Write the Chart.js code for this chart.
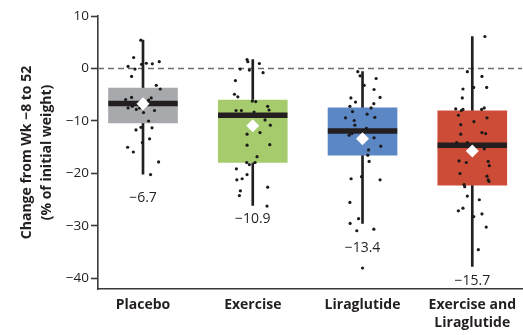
<!DOCTYPE html>
<html><head><meta charset="utf-8">
<script src="https://cdn.jsdelivr.net/npm/chart.js@4"></script>
<style>html,body{margin:0;padding:0;background:#fff}</style>
</head><body>
<canvas id="c" width="523" height="335"></canvas>
<script>
// ---- data ----
const categories = ['Placebo', 'Exercise', 'Liraglutide', ['Exercise and', 'Liraglutide']];
const yTicks = [10, 0, -10, -20, -30, -40];
const q3 = [-3.75, -6.0, -7.5, -8.05];
const q1 = [-10.35, -17.9, -16.5, -22.2];
const medians = [-6.65, -8.9, -11.9, -14.6];
const means = [-6.7, -10.9, -13.4, -15.7];
const whiskerHigh = [5.4, 1.7, -0.6, 6.1];
const whiskerLow = [-20.15, -26.1, -29.5, -37.7];
const meanLabelY = [-24.6, -28.6, -34.1, -40.4];

const placeboVals = [5.4, 2.1, 0.4, -0.1, 0.8, 1.0, 0.9, 1.3, -1.5, -3.2, -3.9, -5.9, -5.5, -7.5, -7.2, -7.8, -7.5, -8.4, -6.0, -5.6, -8.0, -10.0, -11.2, -11.7, -11.3, -13.4, -14.1, -15.0, -15.9, -17.8, -20.2];
const placeboJitter = [-0.02, -0.085, -0.136, -0.073, -0.013, 0.03, 0.085, 0.148, -0.104, 0.121, 0.157, -0.158, -0.104, -0.136, -0.097, -0.061, -0.031, 0.005, 0.051, 0.075, 0.105, 0.051, -0.018, -0.064, 0.082, 0.06, -0.006, -0.14, -0.088, 0.142, 0.069];

const exerciseVals = [1.7, 1.3, 0.95, -0.1, -0.3, -0.8, -2.3, -4.9, -5.4, -6.2, -6.3, -8.0, -8.0, -8.3, -7.2, -7.9, -9.8, -10.8, -12.2, -12.5, -14.6, -14.5, -16.8, -17.9, -18.3, -17.9, -19.1, -20.2, -21.2, -21.0, -23.3, -24.2, -22.6, -26.2];
const exerciseJitter = [-0.052, -0.045, 0.06, -0.115, -0.031, 0.094, -0.158, -0.167, -0.136, -0.004, 0.027, -0.152, -0.104, 0.012, 0.136, 0.148, 0.112, 0.16, 0.066, -0.052, -0.052, 0.155, 0.039, -0.055, -0.031, 0.021, -0.149, -0.052, -0.145, -0.097, -0.113, -0.122, 0.136, 0.13];

const liraVals = [-0.6, -1.4, -1.9, -3.2, -4.0, -5.6, -6.4, -5.5, -6.7, -7.2, -7.5, -8.2, -8.7, -9.4, -9.3, -9.9, -10.8, -11.4, -12.7, -12.4, -13.2, -14.8, -15.5, -16.5, -17.7, -20.6, -21.0, -21.2, -25.5, -28.6, -29.5, -30.9, -30.6, -38.0];
const liraJitter = [-0.043, -0.022, 0.124, 0.015, 0.105, -0.106, -0.064, 0.16, 0.103, -0.115, 0.078, -0.091, 0.042, -0.155, 0.112, -0.076, -0.07, 0.036, -0.122, -0.097, 0.105, 0.166, 0.055, 0.048, 0.06, -0.009, -0.104, 0.16, -0.115, -0.036, -0.113, -0.052, 0.103, 0];

const comboVals = [6.1, -0.6, -1.5, -3.9, -3.6, -3.6, -5.6, -7.7, -8.0, -7.8, -7.8, -7.5, -8.9, -9.4, -10.1, -10.7, -12.2, -12.4, -12.5, -14.1, -14.1, -15.3, -17.6, -17.9, -17.7, -18.5, -20.0, -20.5, -21.2, -21.5, -22.1, -22.5, -24.3, -25.0, -27.1, -26.6, -28.2, -27.7, -30.2, -34.5];
const comboJitter = [0.115, -0.045, 0.088, -0.085, 0.013, 0.131, -0.091, -0.151, -0.1, -0.085, 0.085, 0.109, -0.127, 0.134, 0.015, -0.105, 0.088, 0.122, -0.105, -0.142, -0.045, 0.109, -0.121, -0.055, 0.145, 0.155, -0.112, 0.134, 0.145, 0.152, -0.075, -0.069, -0.045, 0.064, -0.127, -0.085, 0.013, 0.088, 0.127, 0.055];

// ---- build ----
const groupVals = [placeboVals, exerciseVals, liraVals, comboVals];
const groupJitter = [placeboJitter, exerciseJitter, liraJitter, comboJitter];
const boxColors = ['#a7a9ac', '#a6cb6c', '#5c87c5', '#cc4c37'];
const X_MIN = -0.41, X_MAX = 3.455;
const TEXT = '#231f20';
const fmt = v => (v < 0 ? '\u2212' : '') + Math.abs(v);

const points = [];
groupVals.forEach((vals, g) => vals.forEach((v, i) => points.push({x: g + groupJitter[g][i], y: v})));

const meanLabels = {
  id: 'meanLabels',
  afterDatasetsDraw(chart) {
    const {ctx, scales: {x, y}} = chart;
    ctx.save();
    ctx.font = '14px "Open Sans", sans-serif';
    ctx.fillStyle = TEXT;
    ctx.textAlign = 'center';
    ctx.textBaseline = 'middle';
    means.forEach((m, i) => {
      ctx.fillText('\u2212' + Math.abs(m).toFixed(1), x.getPixelForValue(i), y.getPixelForValue(meanLabelY[i]));
    });
    ctx.restore();
  }
};

new Chart(document.getElementById('c'), {
  type: 'bar',
  data: {
    datasets: [
      { type: 'scatter', order: 0, data: means.map((m, i) => ({x: i, y: m})),
        pointStyle: 'rectRot', pointRadius: 6.5, backgroundColor: '#ffffff', borderColor: '#ffffff', borderWidth: 0 },
      { type: 'scatter', order: 1, data: points,
        pointRadius: 1.6, backgroundColor: '#1a1a1a', borderWidth: 0 },
      { type: 'scatter', order: 2, data: medians.map((m, i) => ({x: i, y: m})),
        pointStyle: 'line', pointRadius: 34.7, borderColor: '#231f20', borderWidth: 5.5 },
      { type: 'bar', order: 3, grouped: false, barThickness: 69, borderWidth: 0,
        data: q1.map((v, i) => ({x: i, y: [v, q3[i]]})), backgroundColor: boxColors },
      { type: 'bar', order: 4, grouped: false, barThickness: 2, borderWidth: 0,
        data: whiskerLow.map((v, i) => ({x: i, y: [v, whiskerHigh[i]]})), backgroundColor: '#231f20' },
      { type: 'line', order: 5, data: [{x: X_MIN, y: 0}, {x: X_MAX, y: 0}],
        borderColor: '#6d6e71', borderWidth: 1.5, borderDash: [6, 4], pointRadius: 0, fill: false }
    ]
  },
  options: {
    responsive: false,
    devicePixelRatio: 1,
    animation: false,
    layout: { autoPadding: false, padding: { top: 16, left: 0, right: 0, bottom: 0 } },
    plugins: { legend: { display: false }, tooltip: { enabled: false } },
    scales: {
      x: {
        type: 'linear', min: X_MIN, max: X_MAX, offset: false,
        afterBuildTicks: s => { s.ticks = categories.map((c, i) => ({value: i})); },
        afterFit: s => { s.height = 46; },
        grid: { display: true, offset: false, drawOnChartArea: false, drawTicks: false },
        border: { display: true, color: '#3a3a3a', width: 1.6 },
        ticks: { padding: 7, color: TEXT, maxRotation: 0, autoSkip: false,
          font: { family: '"Open Sans", sans-serif', size: 14, weight: 'bold', lineHeight: '18px' },
          callback: v => categories[v] }
      },
      y: {
        min: -42, max: 10,
        afterBuildTicks: s => { s.ticks = yTicks.map(v => ({value: v})); },
        afterFit: s => { s.width = 98; },
        grid: { display: true, drawOnChartArea: false, drawTicks: true, tickLength: 7, tickWidth: 1.6, tickColor: '#3a3a3a' },
        border: { display: true, color: '#3a3a3a', width: 1.6 },
        ticks: { padding: 2, color: TEXT, font: { family: '"Open Sans", sans-serif', size: 13.5 },
          callback: v => fmt(v) },
        title: { display: true, text: ['Change from Wk \u22128 to 52', '(% of initial weight)'], color: TEXT,
          padding: { top: 17, bottom: 0 },
          font: { family: '"Open Sans", sans-serif', size: 14, weight: 'bold', lineHeight: '20px' } }
      }
    }
  },
  plugins: [meanLabels]
});
</script>
</body></html>
